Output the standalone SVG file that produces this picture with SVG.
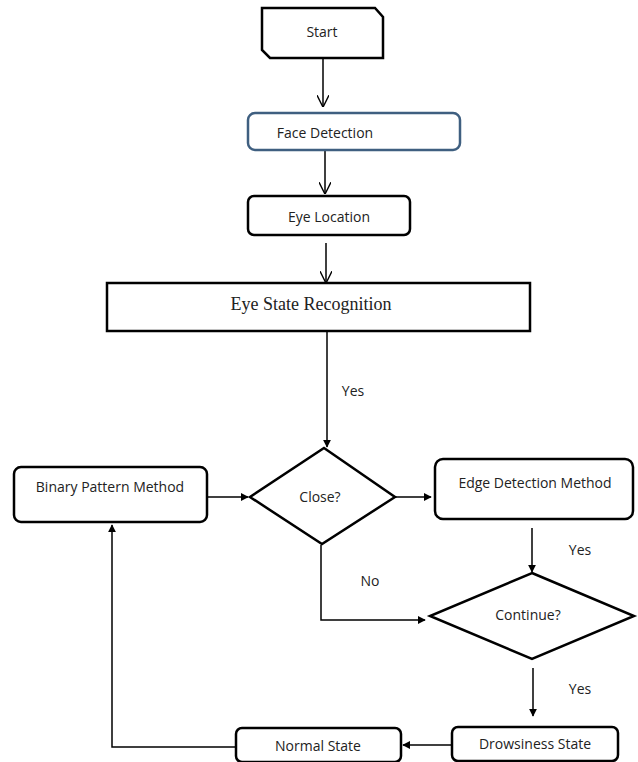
<svg xmlns="http://www.w3.org/2000/svg" width="638" height="762" viewBox="0 0 638 762">
<defs>
<marker id="ah" viewBox="0 0 10 10" refX="9" refY="5" markerWidth="8" markerHeight="8" markerUnits="userSpaceOnUse" orient="auto">
<path d="M0,0 L10,5 L0,10 z" fill="#000"/>
</marker>
<marker id="av" viewBox="0 0 10 10" refX="9" refY="5" markerWidth="12" markerHeight="12" markerUnits="userSpaceOnUse" orient="auto">
<path d="M0,0 L10,5 L0,10" fill="none" stroke="#000" stroke-width="1.2"/>
</marker>
<style>
.box{fill:#fff;stroke:#000;stroke-width:2.5}
.t{font-family:"Open Sans","Liberation Sans",sans-serif;font-size:14px;fill:#222;text-anchor:middle}
.c{fill:none;stroke:#000;stroke-width:1.5}
</style>
</defs>
<rect width="638" height="762" fill="#fff"/>
<g id="connectors">
<line class="c" x1="323" y1="59" x2="323" y2="106" marker-end="url(#av)"/>
<line class="c" x1="325" y1="151" x2="325" y2="193" marker-end="url(#av)"/>
<line class="c" x1="326" y1="243" x2="326" y2="282" marker-end="url(#av)"/>
<line class="c" x1="327" y1="332" x2="327" y2="447" marker-end="url(#ah)"/>
<line class="c" x1="396" y1="497" x2="431" y2="497" marker-end="url(#ah)"/>
<line class="c" x1="208" y1="497" x2="248" y2="497" marker-end="url(#ah)"/>
<line class="c" x1="532" y1="528" x2="532" y2="572" marker-end="url(#ah)"/>
<polyline class="c" points="321,545 321,620 425,620" marker-end="url(#ah)"/>
<line class="c" x1="533" y1="668" x2="533" y2="716" marker-end="url(#ah)"/>
<line class="c" x1="452" y1="745" x2="403" y2="745" marker-end="url(#ah)"/>
<polyline class="c" points="236,747 112,747 112,525" marker-end="url(#ah)"/>
<text class="t" x="353" y="396">Yes</text>
<text class="t" x="580" y="555">Yes</text>
<text class="t" x="370" y="586">No</text>
<text class="t" x="580" y="694">Yes</text>
</g>
<g id="start">
<path class="box" stroke-width="3" d="M262,8 L375,8 L383,17 L383,58 L270,58 L262,50 Z"/>
<text class="t" x="322" y="37">Start</text>
</g>
<g id="face-detection">
<rect x="248" y="113" width="212" height="37" rx="7" fill="#fff" stroke="#3f5f80" stroke-width="2.5"/>
<text class="t" x="325" y="138">Face Detection</text>
</g>
<g id="eye-location">
<rect class="box" x="248" y="196" width="162" height="39" rx="6"/>
<text class="t" x="329" y="222">Eye Location</text>
</g>
<g id="eye-state-recognition">
<rect class="box" stroke-width="3" x="107" y="283" width="423" height="48"/>
<text x="311" y="310" font-family="'Liberation Serif',serif" font-size="18" fill="#222" text-anchor="middle">Eye State Recognition</text>
</g>
<g id="close">
<polygon class="box" points="324,448 395,497 322,544 250,497"/>
<text class="t" x="320" y="502">Close?</text>
</g>
<g id="edge-detection">
<rect class="box" x="435" y="459" width="198" height="60" rx="8"/>
<text class="t" x="535" y="488">Edge Detection Method</text>
</g>
<g id="binary-pattern">
<rect class="box" x="14" y="467" width="193" height="55" rx="7"/>
<text class="t" x="110" y="492">Binary Pattern Method</text>
</g>
<g id="continue">
<polygon class="box" points="532,573 634,616 532,659 430,616"/>
<text class="t" x="528" y="620">Continue?</text>
</g>
<g id="drowsiness-state">
<rect class="box" x="452" y="727" width="166" height="34" rx="6"/>
<text class="t" x="535" y="749">Drowsiness State</text>
</g>
<g id="normal-state">
<rect class="box" x="236" y="728" width="165" height="34" rx="6"/>
<text class="t" x="318" y="751">Normal State</text>
</g>
</svg>
